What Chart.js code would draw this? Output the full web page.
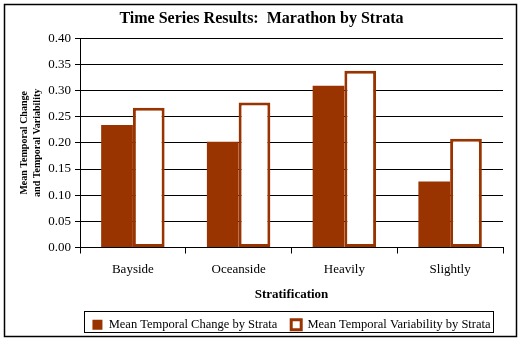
<!DOCTYPE html>
<html><head><meta charset="utf-8">
<script src="https://cdn.jsdelivr.net/npm/chart.js@4"></script>
<style>html,body{margin:0;padding:0;background:#fff}</style>
</head>
<body>
<canvas id="c" width="523" height="343"></canvas>
<script>
const categories = ['Bayside', 'Oceanside', 'Heavily', 'Slightly'];
const changeValues = [0.234, 0.202, 0.309, 0.126];
const variabilityValues = [0.267, 0.277, 0.338, 0.208];
const seriesNames = ['Mean Temporal Change by Strata', 'Mean Temporal Variability by Strata'];
const titleText = 'Time Series Results:  Marathon by Strata';
const yTitle = ['Mean Temporal Change', 'and Temporal Variability'];
const xTitle = 'Stratification';

const SERIF = "'Liberation Serif', 'Times New Roman', serif";
const RUST = '#993300';
const LEGEND_PAD = 14;

const shiftPlugin = {
  id: 'shiftBlocks',
  afterLayout(chart) {
    const t = chart.titleBlock;
    if (t) { t.left += 10; t.right += 10; }
    const lg = chart.legend;
    if (lg) { lg.left += 40; lg.right += 40; }
  }
};

const framePlugin = {
  id: 'frame',
  afterDraw(chart) {
    const ctx = chart.ctx;
    ctx.save();
    ctx.strokeStyle = '#000';
    ctx.lineWidth = 1.5;
    ctx.strokeRect(4.5, 4.5, 512, 332);
    const lg = chart.legend;
    if (lg && lg.lineWidths && lg.lineWidths.length) {
      const w = lg.lineWidths[0];
      const startX = (lg.left + LEGEND_PAD + lg.right - w) / 2;
      const x0 = startX - 8;
      const x1 = startX + w - LEGEND_PAD + 3;
      const cy = lg.top + lg.height / 2;
      const y0 = cy - 12;
      const y1 = cy + 9;
      ctx.lineWidth = 1;
      ctx.strokeRect(Math.round(x0) + 0.5, Math.round(y0) + 0.5, Math.round(x1 - x0), Math.round(y1 - y0));
    }
    ctx.restore();
  }
};

new Chart(document.getElementById('c'), {
  type: 'bar',
  data: {
    labels: categories,
    datasets: [
      { label: seriesNames[0], data: changeValues, backgroundColor: RUST, borderColor: RUST, borderWidth: 0 },
      { label: seriesNames[1], data: variabilityValues, backgroundColor: '#ffffff', borderColor: RUST, borderWidth: 3, borderSkipped: false }
    ]
  },
  options: {
    responsive: false,
    animation: false,
    devicePixelRatio: 1,
    layout: { padding: { left: 0, right: 20, top: 0, bottom: 2 } },
    datasets: { bar: { categoryPercentage: 0.6, barPercentage: 1.0 } },
    plugins: {
      title: {
        display: true, text: titleText, color: '#000',
        font: { family: SERIF, size: 16, weight: 'bold' },
        padding: { top: 9, bottom: 10 }
      },
      legend: {
        position: 'bottom',
        labels: {
          color: '#000', font: { family: SERIF, size: 12.5 },
          boxWidth: 10, boxHeight: 10, padding: LEGEND_PAD
        }
      },
      tooltip: { enabled: false }
    },
    scales: {
      x: {
        offset: true,
        afterFit: (s) => { s.height = 57; },
        grid: {
          offset: true, drawOnChartArea: true,
          color: (c) => (c.index === 4 ? '#000' : 'rgba(0,0,0,0)'),
          tickColor: '#000', tickLength: 6, lineWidth: 1
        },
        border: { display: true, color: '#000' },
        ticks: { color: '#000', font: { family: SERIF, size: 13 }, padding: 8 },
        title: { display: true, text: xTitle, color: '#000', font: { family: SERIF, size: 13, weight: 'bold' }, padding: { top: 0, bottom: 2 } }
      },
      y: {
        min: 0, max: 0.4,
        afterFit: (s) => { s.width = 80; },
        ticks: { stepSize: 0.05, color: '#000', font: { family: SERIF, size: 13 }, padding: 4, callback: (v) => v.toFixed(2) },
        grid: { color: '#000', tickColor: '#000', tickLength: 5, lineWidth: 1 },
        border: { display: true, color: '#000' },
        title: { display: true, text: yTitle, color: '#000', font: { family: SERIF, size: 10, weight: 'bold', lineHeight: 1.3 }, padding: { top: 18, bottom: 4 } }
      }
    }
  },
  plugins: [shiftPlugin, framePlugin]
});
</script>
</body></html>
